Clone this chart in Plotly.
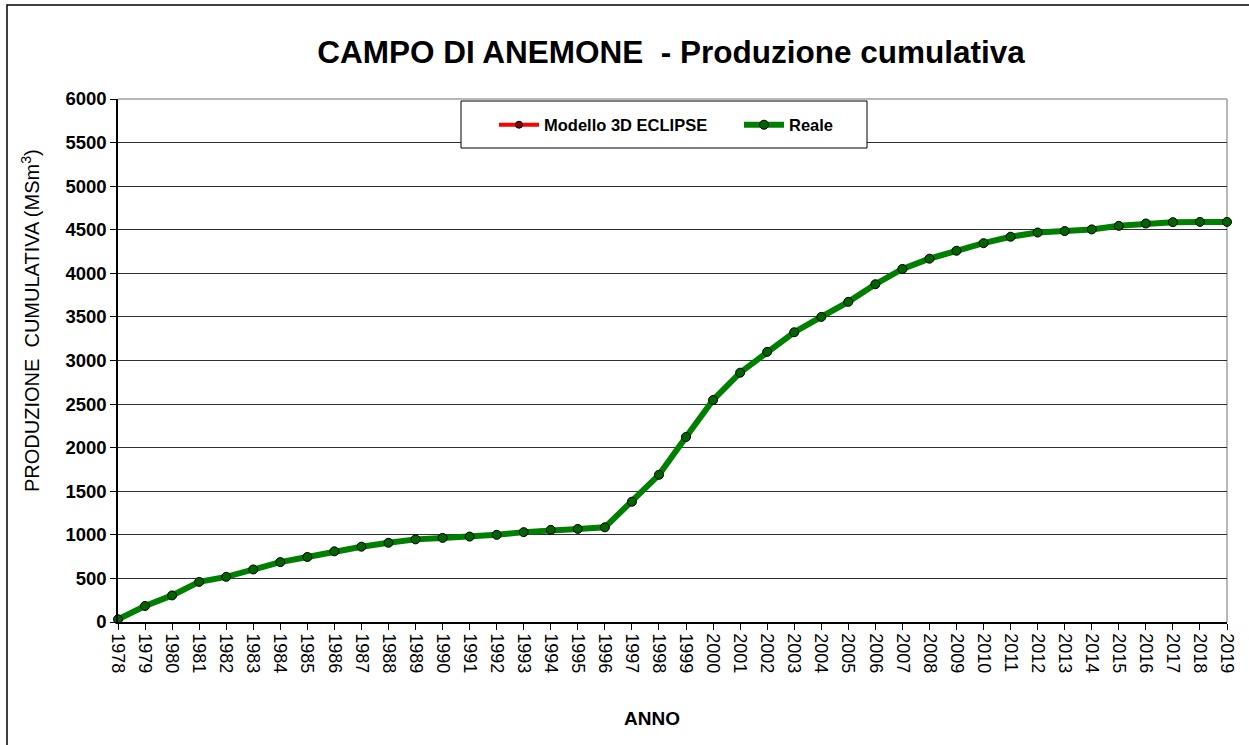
import plotly.graph_objects as go

years = list(range(1978, 2020))
reale = [31, 184, 305, 460, 518, 603, 687, 746, 811, 864,
         909, 948, 965, 980, 1000, 1031, 1057, 1068, 1086,
         1380, 1689, 2123, 2547, 2860,
         3099, 3324, 3500, 3673, 3875,
         4050, 4168, 4259, 4346, 4420,
         4468, 4485, 4504, 4545, 4572,
         4587, 4590, 4590]
modello = list(reale)
y_ticks = list(range(0, 6001, 500))

FONT = "Liberation Sans, Arial, sans-serif"
W, H = 1249, 745
L, R, T, B = 118, 1227, 99, 622


def px(x):
    return (x - L) / (R - L)


def py(y):
    return (B - y) / (B - T)


fig = go.Figure()
fig.add_trace(go.Scatter(
    x=years, y=modello, name="Modello 3D ECLIPSE", mode="lines+markers",
    line=dict(color="#ff0000", width=4),
    marker=dict(symbol="circle", size=7, color="#8b0000", line=dict(color="black", width=1)),
    cliponaxis=False,
))
fig.add_trace(go.Scatter(
    x=years, y=reale, name="Reale", mode="lines+markers",
    line=dict(color="#008000", width=6),
    marker=dict(symbol="circle", size=9, color="#006400", line=dict(color="black", width=1)),
    cliponaxis=False,
))

shapes = [
    dict(type="line", xref="paper", yref="paper", x0=0, x1=1, y0=1, y1=1,
         line=dict(color="#a0a0a0", width=1.5), layer="below"),
    dict(type="line", xref="paper", yref="paper", x0=1, x1=1, y0=0, y1=1,
         line=dict(color="#a0a0a0", width=1.5), layer="below"),
    dict(type="rect", xref="paper", yref="paper",
         x0=px(461), x1=px(867), y0=py(148), y1=py(101),
         line=dict(color="black", width=1), fillcolor="white", layer="above"),
    dict(type="rect", xref="paper", yref="paper",
         x0=px(7), x1=px(1260), y0=py(760), y1=py(5),
         line=dict(color="black", width=1.5), fillcolor="rgba(0,0,0,0)", layer="below"),
]

fig.update_layout(
    width=W, height=H,
    margin=dict(l=L, r=W - R, t=T, b=H - B, autoexpand=False),
    paper_bgcolor="white", plot_bgcolor="white",
    font=dict(family=FONT, color="black"),
    title=dict(text="<b>CAMPO DI ANEMONE  - Produzione cumulativa</b>",
               x=671 / W, xanchor="center", y=1 - 52 / H, yanchor="middle",
               font=dict(size=31.5, family=FONT, color="black")),
    showlegend=True,
    legend=dict(orientation="h", x=px(494), xanchor="left", y=py(125), yanchor="middle",
                bgcolor="rgba(0,0,0,0)", borderwidth=0,
                font=dict(size=16.5, family=FONT, color="black", weight="bold"),
                entrywidth=190, itemwidth=40, tracegroupgap=0),
    xaxis=dict(range=[1978, 2019], tickmode="array", tickvals=years,
               ticktext=[str(y) for y in years], tickangle=90,
               ticks="outside", ticklen=6, tickcolor="black", tickwidth=1,
               showline=True, linecolor="black", linewidth=1.5,
               showgrid=False, zeroline=False,
               tickfont=dict(size=18, family=FONT, color="black")),
    yaxis=dict(range=[0, 6000], tickmode="array", tickvals=y_ticks,
               ticks="outside", ticklen=6, tickcolor="black", tickwidth=1,
               showline=True, linecolor="black", linewidth=1.5,
               showgrid=True, gridcolor="#303030", gridwidth=1, zeroline=False,
               tickfont=dict(size=18.5, family=FONT, color="black", weight="bold")),
    shapes=shapes,
    annotations=[
        dict(text="PRODUZIONE  CUMULATIVA (MSm<sup>3</sup>)", textangle=-90,
             xref="paper", yref="paper", x=px(30), y=py(321),
             xanchor="center", yanchor="middle", showarrow=False,
             font=dict(size=20, family=FONT, color="black")),
        dict(text="<b>ANNO</b>", xref="paper", yref="paper", x=px(652), y=py(718),
             xanchor="center", yanchor="middle", showarrow=False,
             font=dict(size=19, family=FONT, color="black")),
    ],
)

fig.write_html("out.html", config={"displayModeBar": False},
               post_script="document.body.style.margin='0';document.body.style.overflow='hidden';")
